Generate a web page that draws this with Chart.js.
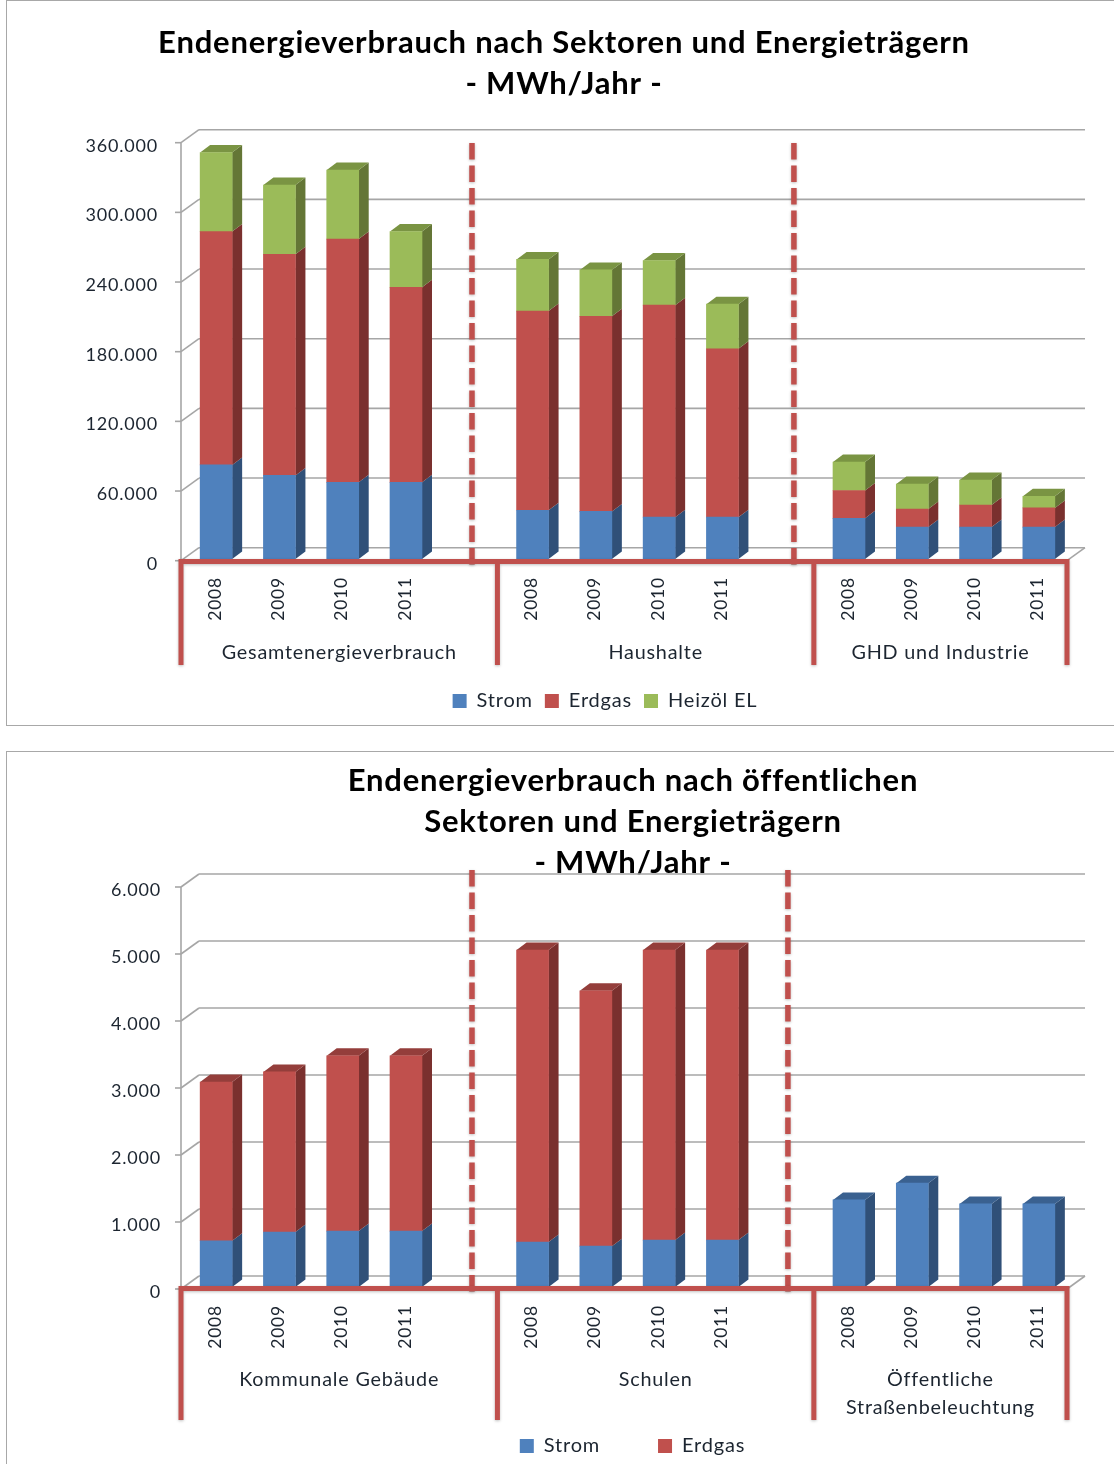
<!DOCTYPE html>
<html lang="de"><head><meta charset="utf-8">
<title>Endenergieverbrauch</title>
<script src="https://cdn.jsdelivr.net/npm/chart.js@4/dist/chart.umd.min.js"></script>
<style>
html,body{margin:0;padding:0;background:#fff;width:1114px;height:1464px;overflow:hidden}
.frame{position:absolute;left:6px;width:1120px;border:1.5px solid #a8a8a8;box-sizing:border-box}
canvas{position:absolute;left:0;filter:blur(.35px)}
</style></head><body>
<div class="frame" style="top:0;height:726px"></div>
<div class="frame" style="top:751px;height:760px"></div>
<canvas id="c1" width="1114" height="740" style="top:0"></canvas>
<canvas id="c2" width="1114" height="719" style="top:745px"></canvas>
<script>
// --- data ---
const categories1 = ['2008','2009','2010','2011','','2008','2009','2010','2011','','2008','2009','2010','2011'];
const strom1  = [81000,72000,66000,66000,null,42000,41000,36000,36000,null,35000,27500,27500,27500];
const erdgas1 = [201000,190500,209500,168000,null,171500,168000,182600,145000,null,24000,15500,19000,16500];
const heizoel1= [68000,59500,59500,48000,null,44500,40000,38400,38500,null,24500,21500,21500,10000];
const groups1 = [['Gesamtenergieverbrauch'],['Haushalte'],['GHD und Industrie']];
const yTicks1 = [0,60000,120000,180000,240000,300000,360000];

const categories2 = ['2008','2009','2010','2011','','2008','2009','2010','2011','','2008','2009','2010','2011'];
const strom2  = [690,820,835,835,null,670,610,700,700,null,1300,1550,1240,1240];
const erdgas2 = [2370,2390,2615,2615,null,4360,3810,4330,4330,null,null,null,null,null];
const groups2 = [['Kommunale Gebäude'],['Schulen'],['Öffentliche','Straßenbeleuchtung']];
const yTicks2 = [0,1000,2000,3000,4000,5000,6000];

const title1 = ['Endenergieverbrauch nach Sektoren und Energieträgern','- MWh/Jahr -'];
const title2 = ['Endenergieverbrauch nach öffentlichen','Sektoren und Energieträgern','- MWh/Jahr -'];
const groupSpans = [[0,5],[5,10],[10,14]];

// --- styling ---
const FONT='Lato';
const RED='#C0504D', GRID='#a6a6a6', TXT='#1c2530';
const C = {
  Strom:{front:'#4F81BD',side:'#305078',top:'#3A6190'},
  Erdgas:{front:'#C0504D',side:'#7A302E',top:'#943E3B'},
  'Heizöl EL':{front:'#9BBB59',side:'#647636',top:'#7A9443'}
};
const DX=10, DY=7.5, WX=18, WY=13, SPACING='0.8px';

const chrome = {
  id:'chrome',
  beforeUpdate(c){c.ctx.letterSpacing=SPACING;},
  afterLayout(c){
    const o=c.options.plugins.chrome;
    c.titleBlock.left=o.titleCx-520; c.titleBlock.right=o.titleCx+520;
    const lg=c.legend, p=lg.options.labels.padding;
    lg.left=o.legendCx-520; lg.right=o.legendCx+520;
    lg.top=o.legendCy-p-10;
  },
  beforeDraw(c){c.ctx.letterSpacing=SPACING;},
  beforeDatasetsDraw(c){
    const o=c.options.plugins.chrome, ctx=c.ctx, y=c.scales.y, x=c.scales.x;
    const L=x.left-3.5, R=x.right-3.5;
    ctx.save();
    ctx.strokeStyle=GRID; ctx.lineWidth=1.6;
    const seg=(a,b,d,e)=>{ctx.beginPath();ctx.moveTo(a,b);ctx.lineTo(d,e);ctx.stroke();};
    o.ticks.forEach(v=>{
      const f=y.getPixelForValue(v)+o.tickOff;
      seg(L+WX,f-WY,R+WX,f-WY);
      seg(L,f,L+WX,f-WY);
      seg(L-6,f,L,f);
    });
    const f0=y.getPixelForValue(0)+o.tickOff;
    seg(R,f0,R+WX,f0-WY);
    seg(L,y.getPixelForValue(o.ticks[o.ticks.length-1])+o.tickOff,L,f0);
    // dashed separators
    ctx.strokeStyle=RED; ctx.lineWidth=5.5; ctx.setLineDash([16.5,6]);
    ctx.shadowColor='rgba(0,0,0,.25)'; ctx.shadowBlur=3; ctx.shadowOffsetY=1;
    const step=(x.right-x.left)/categories1.length;
    o.dashX.forEach(d=>{
      const px=x.left+d.idx*step+d.off;
      seg(px,y.top+o.dashTop,px,y.bottom+o.dashBottom);
    });
    ctx.restore();
    // 3D faces, read from the bar elements
    ctx.save();
    const n=c.data.labels.length, ds=c.data.datasets;
    for(let i=0;i<n;i++){
      ds.forEach((d,k)=>{
        if(d.data[i]==null) return;
        const el=c.getDatasetMeta(k).data[i], col=C[d.label];
        const r=el.x+el.width/2, l=el.x-el.width/2;
        ctx.fillStyle=col.side; ctx.beginPath();
        ctx.moveTo(r,el.base);ctx.lineTo(r+DX,el.base-DY);ctx.lineTo(r+DX,el.y-DY);ctx.lineTo(r,el.y);ctx.closePath();ctx.fill();
        const above=ds.slice(k+1).some(q=>q.data[i]!=null);
        if(!above){
          ctx.fillStyle=col.top; ctx.beginPath();
          ctx.moveTo(l,el.y);ctx.lineTo(l+DX,el.y-DY);ctx.lineTo(r+DX,el.y-DY);ctx.lineTo(r,el.y);ctx.closePath();ctx.fill();
        }
      });
    }
    ctx.restore();
  },
  afterDatasetsDraw(c){
    const o=c.options.plugins.chrome, ctx=c.ctx, y=c.scales.y, x=c.scales.x;
    const step=(x.right-x.left)/categories1.length, yb=y.bottom+o.redOff;
    ctx.save();
    ctx.strokeStyle=RED; ctx.lineWidth=5; ctx.lineCap='butt';
    ctx.shadowColor='rgba(0,0,0,.25)'; ctx.shadowBlur=3; ctx.shadowOffsetY=1;
    const bx=k=>x.left+k*step-3.5;
    ctx.beginPath();
    [0,5,10,14].forEach(k=>{ctx.moveTo(bx(k),yb);ctx.lineTo(bx(k),y.bottom+o.bracket);});
    ctx.moveTo(bx(0)-2.5,yb);ctx.lineTo(bx(14)+2.5,yb);
    ctx.stroke();
    ctx.restore();
    ctx.save();
    ctx.fillStyle=TXT; ctx.font='19.8px '+FONT; ctx.textAlign='center'; ctx.textBaseline='middle';
    o.groups.forEach((g,i)=>{
      const cx=(bx(groupSpans[i][0])+bx(groupSpans[i][1]))/2;
      g.forEach((t,j)=>ctx.fillText(t,cx,y.bottom+o.groupY+j*28));
    });
    ctx.restore();
  }
};

function makeChart(id,labels,datasets,opt){
  return new Chart(document.getElementById(id),{
    type:'bar',
    data:{labels,datasets:datasets.map(d=>({label:d.label,data:d.data,backgroundColor:C[d.label].front,barThickness:32,borderWidth:0,stack:'s'}))},
    plugins:[chrome],
    options:{
      responsive:false,animation:false,
      layout:{padding:{left:0,right:43.5,top:0,bottom:0}},
      scales:{
        x:{stacked:true,afterFit(s){s.height=opt.xH;},grid:{display:false,drawTicks:false},border:{display:false},
           ticks:{autoSkip:false,minRotation:90,maxRotation:90,padding:opt.yearPad,labelOffset:-1,color:TXT,font:{family:FONT,size:17.5}}},
        y:{stacked:true,min:0,max:opt.max,afterFit(s){s.width=184.5;},
           afterBuildTicks(s){s.ticks=opt.ticks.map(v=>({value:v}));},
           grid:{display:false,drawTicks:false},border:{display:false},
           ticks:{padding:opt.yPad,labelOffset:5,color:TXT,font:{family:FONT,size:18},
                  callback:v=>String(v).replace(/\B(?=(\d{3})+$)/g,'.')}}
      },
      plugins:{
        tooltip:{enabled:false},
        title:{display:true,text:opt.title,color:'#000',font:{family:FONT,size:opt.titleSize,weight:'bold',lineHeight:41/opt.titleSize},padding:opt.titlePad},
        legend:{position:'bottom',maxHeight:20,labels:{boxWidth:14,boxHeight:14,padding:opt.legendGap,color:TXT,font:{family:FONT,size:20}}},
        chrome:{ticks:opt.ticks,groups:opt.groups,tickOff:opt.tickOff,dashX:opt.dashX,dashTop:opt.dashTop,dashBottom:opt.dashBottom,
                redOff:opt.redOff,bracket:opt.bracket,groupY:opt.groupY,titleCx:opt.titleCx,legendCx:opt.legendCx,legendCy:opt.legendCy}
      }
    }
  });
}

makeChart('c1',categories1,[{label:'Strom',data:strom1},{label:'Erdgas',data:erdgas1},{label:'Heizöl EL',data:heizoel1}],{
  max:360000,ticks:yTicks1,groups:groups1,title:title1,titleSize:31,titlePad:{top:22,bottom:37},
  xH:161,yearPad:18,yPad:26.5,legendGap:12,tickOff:1.7,
  dashX:[{idx:4.5,off:2.7},{idx:9.5,off:8.2}],dashTop:2,dashBottom:6,redOff:2.5,bracket:106,groupY:94,
  titleCx:564,legendCx:605,legendCy:701
});
makeChart('c2',categories2,[{label:'Strom',data:strom2},{label:'Erdgas',data:erdgas2}],{
  max:6000,ticks:yTicks2,groups:groups2,title:title2,titleSize:31,titlePad:{top:15,bottom:2},
  xH:157,yearPad:18,yPad:23.5,legendGap:58,tickOff:2,
  dashX:[{idx:4.5,off:2.7},{idx:9.5,off:2.2}],dashTop:-15,dashBottom:5,redOff:1.5,bracket:133,groupY:93,
  titleCx:633,legendCx:632.5,legendCy:701
});
</script>
</body></html>
